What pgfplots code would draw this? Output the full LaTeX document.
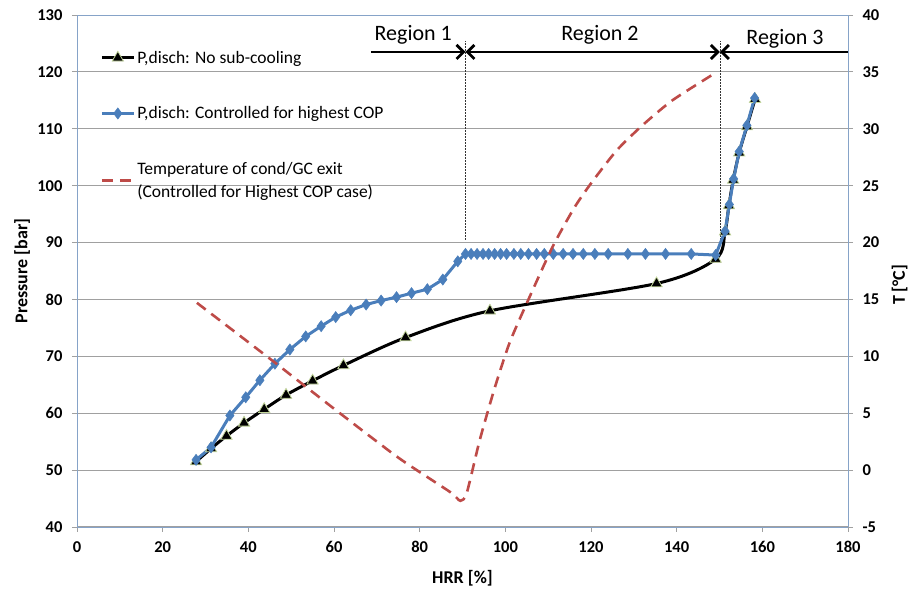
\documentclass[border=0pt]{standalone}
\usepackage{pgfplots}
\pgfplotsset{compat=1.18}
\usepackage{pgfplotstable}
\usepackage{fontspec}
\setmainfont{Carlito}
\usetikzlibrary{arrows.meta}

\definecolor{serblue}{RGB}{74,126,187}
\definecolor{serred}{RGB}{190,75,72}
\definecolor{trigreen}{RGB}{195,214,155}
\definecolor{axisline}{RGB}{134,163,200}
\definecolor{gridgray}{RGB}{160,160,160}

\tikzset{rarrow/.style={line width=2.8pt}}

% discharge pressure, no sub-cooling [bar]
\pgfplotstableread{
x y
27.8 51.5
31.3 53.8
34.9 56.0
39.0 58.3
43.7 60.7
48.8 63.2
55.0 65.7
62.2 68.4
76.7 73.3
96.4 78.0
135.3 82.8
149.1 87.1
151.3 91.9
152.2 96.5
153.2 101.0
154.6 105.8
156.4 110.4
158.3 115.2
}\nosubcool

% discharge pressure, controlled for highest COP [bar]
\pgfplotstableread{
x y
27.8 51.8
31.3 54.0
35.7 59.6
39.4 62.8
42.7 65.8
46.2 68.7
49.7 71.2
53.4 73.5
57.0 75.3
60.4 76.9
63.9 78.1
67.5 79.1
71.0 79.8
74.6 80.4
78.1 81.1
81.8 81.8
85.4 83.5
88.9 86.7
90.7 88.0
92.0 88.0
93.4 88.0
94.8 88.0
96.1 88.0
97.5 88.0
98.9 88.0
100.3 88.0
102.0 88.0
103.6 88.0
105.4 88.0
107.3 88.0
109.1 88.0
111.2 88.0
113.5 88.0
115.8 88.0
118.2 88.0
120.9 88.0
124.0 88.0
128.6 88.0
132.7 88.0
137.4 88.0
143.4 88.0
149.1 87.8
151.3 92.0
152.3 96.7
153.3 101.2
154.6 106.0
156.4 110.6
158.2 115.4
}\highcop

% temperature at condenser / gas cooler exit [C]
\pgfplotstableread{
x y
28 14.7
45 9.8
60 5.4
75 1.1
87 -1.9
89.5 -2.7
91 -2.0
94 2.6
97.5 7.2
101 11.2
105.4 15.0
111 19.6
116 23.0
120 25.2
126 28.1
132 30.3
139 32.5
149 34.9
}\gcexit

\pgfplotsset{
  base/.style={
    width=771pt, height=512pt, scale only axis,
    xmin=0, xmax=180,
    axis line style={axisline, line width=0.9pt},
    tick style={gridgray, line width=0.8pt},
    tick align=outside, major tick length=5pt,
    /pgf/number format/assume math mode=true,
    xticklabel={\pgfmathprintnumber[assume math mode=true]{\tick}},
    yticklabel={\pgfmathprintnumber[assume math mode=true]{\tick}},
    every tick label/.append style={font=\fontsize{16.5}{18}\selectfont\bfseries},
    label style={font=\fontsize{18}{20}\selectfont\bfseries},
  },
}

\begin{document}
\begin{tikzpicture}
\begin{axis}[base,
  ymin=40, ymax=130, ytick distance=10,
  xtick distance=20,
  xtick pos=bottom, ytick pos=left,
  ymajorgrids, grid style={gridgray, line width=1pt},
  clip=false,
  xticklabel style={yshift=-6pt},
  yticklabel style={xshift=-6pt},
  xlabel={HRR [\%]},
  ylabel={Pressure [bar]},
  x label style={at={(axis description cs:0.5,-0.0996)}, anchor=center},
  y label style={at={(axis description cs:-0.0713,0.5)}, anchor=center},
  legend style={at={(axis description cs:0.03,0.934)}, anchor=north west,
    draw=none, fill=none, font=\fontsize{17.5}{23}\selectfont,
    row sep=38pt, cells={align=left}, inner sep=0pt},
  legend cell align=left,
  legend image code/.code={\draw[mark repeat=2,mark phase=2,#1]
    plot coordinates {(0pt,0pt) (16pt,0pt) (32pt,0pt)};},
]
% region boundaries
\draw[black!80, line width=0.8pt, dash pattern=on 1.5pt off 1.5pt]
  (axis cs:90.7,90.5) -- (axis cs:90.7,125.5);
\draw[black!80, line width=0.8pt, dash pattern=on 1.5pt off 1.5pt]
  (axis cs:150.1,90.5) -- (axis cs:150.1,125.5);
\draw[rarrow, -{Straight Barb[length=7pt,width=14pt]}]
  (axis cs:68.6,123.5) -- (axis cs:90.7,123.5);
\draw[rarrow, {Straight Barb[length=7pt,width=14pt]}-{Straight Barb[length=7pt,width=14pt]}]
  (axis cs:90.7,123.5) -- (axis cs:150.1,123.5);
\draw[rarrow, -{Straight Barb[length=7pt,width=14pt]}]
  (axis cs:180,123.5) -- (axis cs:150.1,123.5);
\node[font=\fontsize{22}{24}\selectfont] at (axis cs:78.5,126.6) {Region 1};
\node[font=\fontsize{22}{24}\selectfont] at (axis cs:122.1,126.6) {Region 2};
\node[font=\fontsize{22}{24}\selectfont] at (axis cs:165.3,125.8) {Region 3};

\addplot[black, line width=3pt, smooth, mark=triangle*, mark size=6.5pt,
  mark options={fill=black, draw=trigreen, line width=0.8pt}]
  table {\nosubcool};
\addlegendentry{P,disch: No sub-cooling}
\addplot[serblue, line width=3pt, mark=diamond*, mark size=5.6pt,
  mark options={fill=serblue, draw=serblue, line width=0.5pt}]
  table {\highcop};
\addlegendentry{P,disch: Controlled for highest COP}
\addlegendimage{serred, line width=2.6pt, dash pattern=on 11pt off 7pt}
\addlegendentry{Temperature of cond/GC exit\\(Controlled for Highest COP case)}
\end{axis}

\begin{axis}[base,
  ymin=-5, ymax=40, ytick distance=5,
  axis x line=none, axis y line*=right,
  yticklabel style={xshift=6pt},
  ylabel={T [°C]},
  y label style={at={(axis description cs:1.067,0.473)}, anchor=center, rotate=0},
]
\addplot[serred, line width=2.6pt, dash pattern=on 11pt off 7pt, smooth, tension=0.4]
  table {\gcexit};
\end{axis}

\pgfresetboundingbox
\useasboundingbox (-77pt,-67pt) rectangle (837pt,527pt);
\end{tikzpicture}
\end{document}
